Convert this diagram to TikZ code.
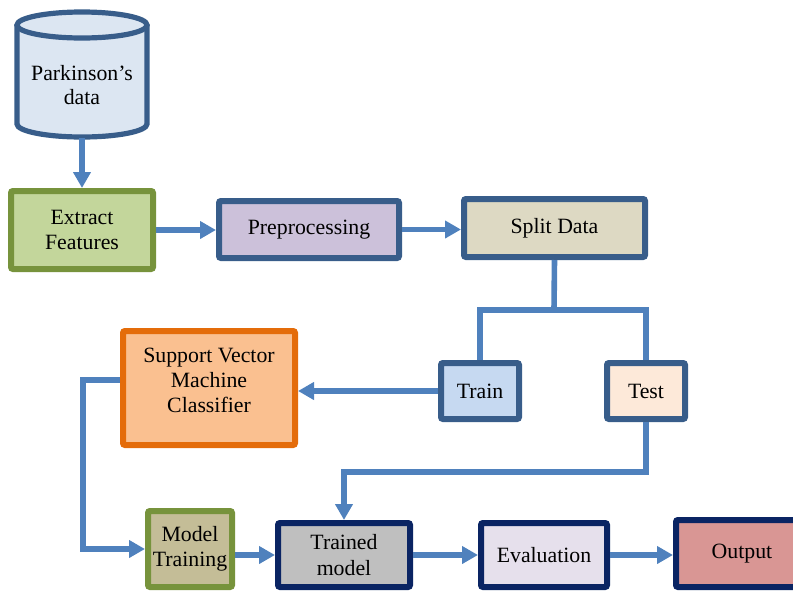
\documentclass[tikz,border=0pt]{standalone}
\usepackage{fontspec}
\setmainfont{Liberation Serif}
\usetikzlibrary{arrows.meta, positioning, calc}
\definecolor{flowblue}{RGB}{79, 129, 189}
\definecolor{steelborder}{RGB}{56, 93, 138}
\definecolor{navyborder}{RGB}{10, 36, 99}
\definecolor{oliveborder}{RGB}{119, 147, 60}
\definecolor{orangeborder}{RGB}{228, 108, 10}
\definecolor{cylfill}{RGB}{220, 230, 242}
\definecolor{extractfill}{RGB}{195, 214, 155}
\definecolor{prepfill}{RGB}{204, 193, 218}
\definecolor{splitfill}{RGB}{221, 217, 195}
\definecolor{trainfill}{RGB}{198, 217, 241}
\definecolor{testfill}{RGB}{253, 233, 217}
\definecolor{svmfill}{RGB}{250, 192, 144}
\definecolor{mtrainfill}{RGB}{196, 189, 151}
\definecolor{trainedfill}{RGB}{191, 191, 191}
\definecolor{evalfill}{RGB}{230, 224, 236}
\definecolor{outputfill}{RGB}{217, 150, 148}

\begin{document}
\begin{tikzpicture}[
    x=0.5pt, y=-0.5pt,
    box/.style={
        draw=steelborder, line width=3pt, rounded corners=1pt,
        align=center, inner sep=2pt,
        font=\fontsize{10.9}{12.6}\selectfont
    },
    arrow/.style={-{Triangle[length=8pt, width=8.5pt]}, flowblue, line width=2.8pt},
    link/.style={flowblue, line width=2.8pt}
]
\clip (0,0) rectangle (793,590);

% DATABASE CYLINDER
\filldraw[fill=cylfill, draw=steelborder, line width=2.6pt]
    (17,25) -- (17,124) arc[start angle=180, end angle=0, x radius=65, y radius=13] -- (147,25);
\filldraw[fill=cylfill, draw=steelborder, line width=2.6pt]
    (82,25) ellipse[x radius=65, y radius=13];
\node[minimum width=65pt, minimum height=63pt, inner sep=0pt] at (82,75) (data) {};
\node[align=center, font=\fontsize{10.9}{12}\selectfont] at (82,85) (datatext) {Parkinson's\\data};

% TOP ROW
\node[box, draw=oliveborder, fill=extractfill, minimum width=71pt, minimum height=39pt]
    at (82,230) (extract) {Extract\\Features};
\node[box, fill=prepfill, minimum width=90pt, minimum height=28.5pt]
    at (309,229.5) (preproc) {Preprocessing};
\node[box, fill=splitfill, minimum width=90.5pt, minimum height=29pt]
    at (554.5,228) (split) {Split Data};

% MIDDLE ROW
\node[box, fill=trainfill, minimum width=39pt, minimum height=28pt]
    at (480,391) (train) {Train};
\node[box, fill=testfill, minimum width=39pt, minimum height=28pt]
    at (646,391) (test) {Test};
\node[box, draw=orangeborder, fill=svmfill, minimum width=86pt, minimum height=57pt, text depth=8pt]
    at (209,388) (svm) {Support Vector\\Machine\\Classifier};

% BOTTOM ROW
\node[box, draw=oliveborder, fill=mtrainfill, minimum width=42pt, minimum height=38pt]
    at (190,549) (mtrain) {Model\\Training};
\node[box, draw=navyborder, fill=trainedfill, minimum width=66pt, minimum height=32pt]
    at (344,555) (trained) {Trained\\model};
\node[box, draw=navyborder, fill=evalfill, minimum width=63pt, minimum height=32pt]
    at (544,555) (eval) {Evaluation};
\node[box, draw=navyborder, fill=outputfill, minimum width=66pt, minimum height=33.5pt]
    at (742,553.5) (output) {Output};

\coordinate (fork) at (554,310);
\coordinate (turn) at (646,472);

% ARROWS
\draw[arrow] (data.south) -- (extract.north);
\draw[arrow] (extract.east) -- (extract.east -| preproc.west);
\draw[arrow] (preproc.east) -- (preproc.east -| split.west);
\draw[link] (split.south) -- (fork);
\draw[link] (fork) -| (train.north);
\draw[link] (fork) -| (test.north);
\draw[arrow] (train.west) -- (train.west -| svm.east);
\draw[arrow] ([yshift=4pt]svm.west) -- ++(-37,0) |- (mtrain.west);
\draw[arrow] (test.south) -- (turn) -| (trained.north);
\draw[arrow] (mtrain.east |- trained.west) -- (trained.west);
\draw[arrow] (trained.east) -- (eval.west);
\draw[arrow] (eval.east) -- (eval.east -| output.west);

\end{tikzpicture}
\end{document}
